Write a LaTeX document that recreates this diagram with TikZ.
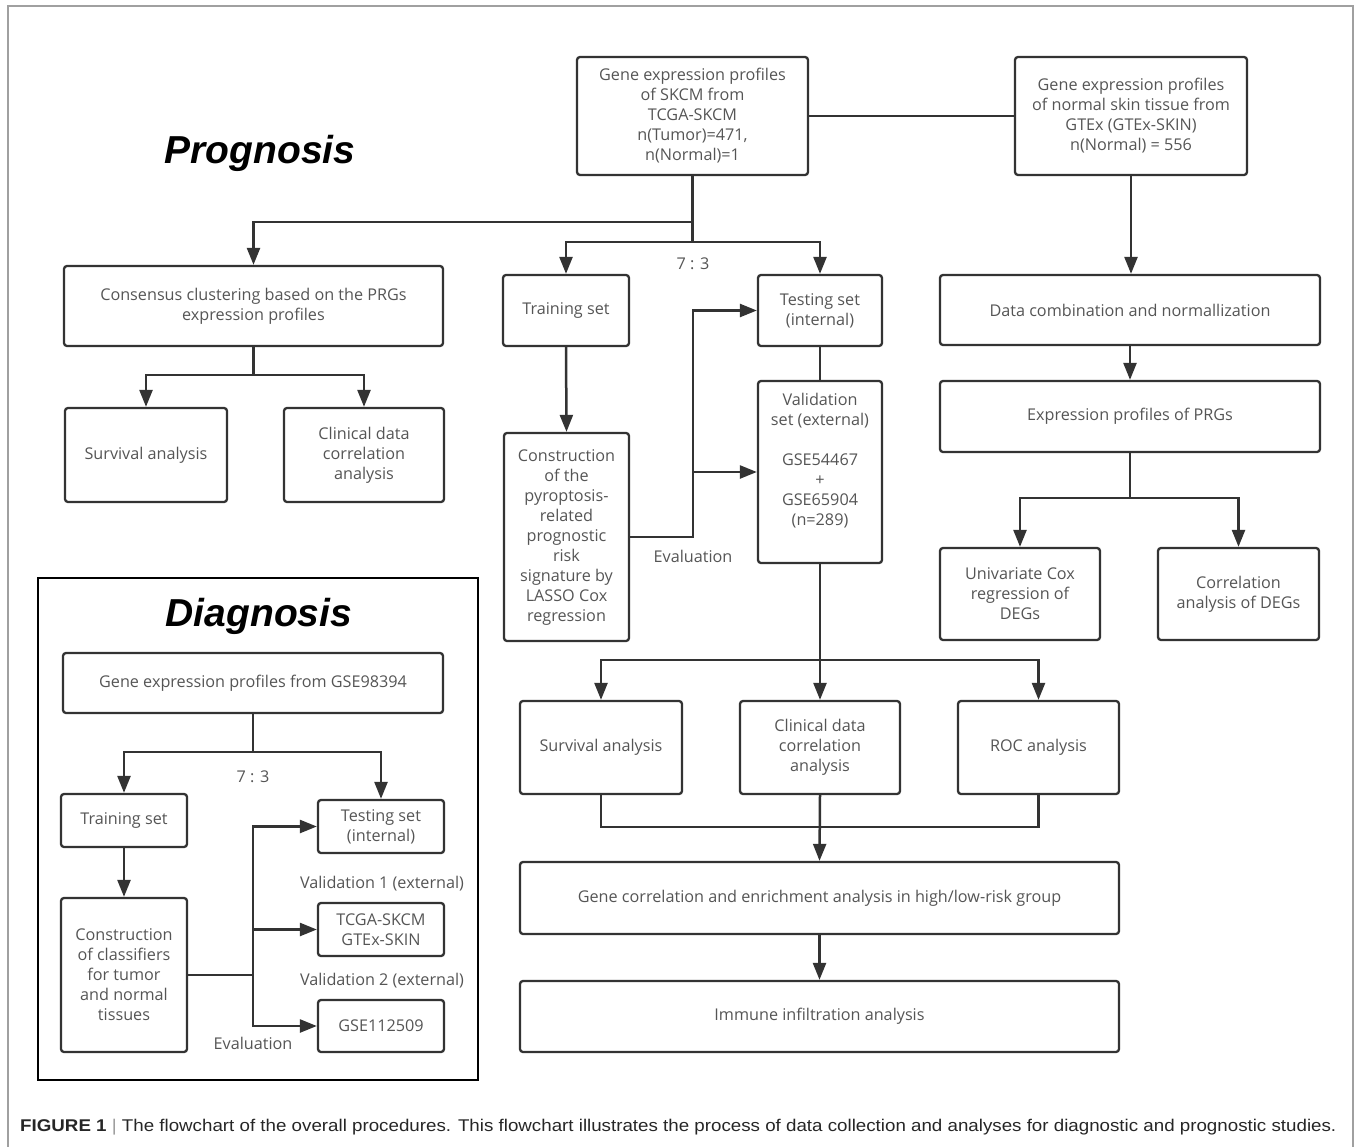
\documentclass[tikz,border=0pt]{standalone}
\usepackage{fontspec}
\usepackage{graphicx}
\setmainfont{Open Sans}
\newfontfamily\titlefont{Liberation Sans}
\usetikzlibrary{arrows.meta}
\definecolor{boxline}{HTML}{333333}
\definecolor{txt}{HTML}{555555}
\definecolor{framecol}{HTML}{A0A0A0}
\tikzset{
  box/.style={draw=boxline, line width=2.3pt, rounded corners=3pt, align=center, text=txt,
    font=\fontsize{16.2}{20}\selectfont, inner sep=2pt},
  conn/.style={draw=boxline, line width=2.5pt},
  arr/.style={conn, -{Triangle[length=17pt,width=13pt]}},
  lbl/.style={text=txt, font=\fontsize{16.2}{20}\selectfont, inner sep=0pt},
  ttl/.style={font=\titlefont\fontsize{39}{40}\selectfont\bfseries\itshape, inner sep=0pt}
}
\begin{document}
\begin{tikzpicture}[x=1pt,y=-1pt]
\useasboundingbox (0,0) rectangle (1356,1147);
% outer frame
\draw[framecol, line width=1.5pt] (8,1147) -- (8,6) -- (1353,6) -- (1353,1147);

% titles
\node[ttl, anchor=base] (prog) at (260,164) {Prognosis};

% Prognosis boxes
\node[box, minimum width=231pt, minimum height=118pt] (top) at (692.5,116)
  {Gene expression profiles\\of SKCM from\\TCGA-SKCM\\n(Tumor)=471,\\n(Normal)=1};
\node[box, minimum width=232pt, minimum height=118pt] (gtex) at (1131,116)
  {Gene expression profiles\\of normal skin tissue from\\GTEx (GTEx-SKIN)\\n(Normal) = 556};
\node[box, minimum width=379pt, minimum height=80pt] (cons) at (253.5,306)
  {Consensus clustering based on the PRGs\\expression profiles};
\node[box, minimum width=162pt, minimum height=94pt] (surv1) at (146,455) {Survival analysis};
\node[box, minimum width=160pt, minimum height=94pt] (clin1) at (364,455) {Clinical data\\correlation\\analysis};
\node[box, minimum width=126pt, minimum height=71pt] (train) at (566,310.5) {Training set};
\node[box, minimum width=124pt, minimum height=71pt] (test) at (820,310.5) {Testing set\\(internal)};
\node[box, minimum width=124pt, minimum height=182pt] (valid) at (820,472)
  {Validation\\set (external)\\[20pt]GSE54467\\+\\GSE65904\\(n=289)\\[6pt]};
\node[box, minimum width=125pt, minimum height=208pt] (constr) at (566.5,537)
  {Construction\\of the\\pyroptosis-\\related\\prognostic\\risk\\signature by\\LASSO Cox\\regression};
\node[box, minimum width=380pt, minimum height=70pt] (comb) at (1130,310) {Data combination and normallization};
\node[box, minimum width=380pt, minimum height=71pt] (expr) at (1130,416.5) {Expression profiles of PRGs};
\node[box, minimum width=160pt, minimum height=92pt] (univ) at (1020,594) {Univariate Cox\\regression of\\DEGs};
\node[box, minimum width=161pt, minimum height=92pt] (corr) at (1238.5,594) {Correlation\\analysis of DEGs};
\node[box, minimum width=162pt, minimum height=93pt] (surv2) at (601,747.5) {Survival analysis};
\node[box, minimum width=160pt, minimum height=93pt] (clin2) at (820,747.5) {Clinical data\\correlation\\analysis};
\node[box, minimum width=161pt, minimum height=93pt] (roc) at (1038.5,747.5) {ROC analysis};
\node[box, minimum width=599pt, minimum height=72pt] (gcorr) at (819.5,898) {Gene correlation and enrichment analysis in high/low-risk group};
\node[box, minimum width=599pt, minimum height=71pt] (immune) at (819.5,1016.5) {Immune infiltration analysis};

% labels
\node[lbl] (r1) at (693,264) {7 : 3};
\node[lbl] (ev1) at (693,556) {Evaluation};

% prognosis connectors
\draw[conn] (top.east) -- (gtex.west);
\coordinate (j1) at (692.5,222);
\coordinate (j2) at (692.5,242);
\draw[conn] (top.south) -- (j2);
\draw[arr] (j1) -| (cons.north);
\draw[arr] (j2) -| (train.north);
\draw[arr] (j2) -| (test.north);
\coordinate (j3) at (253.5,375);
\draw[conn] (cons.south) -- (j3);
\draw[arr] (j3) -| (surv1.north);
\draw[arr] (j3) -| (clin1.north);
\draw[arr] (train.south) -- (constr.north);
\draw[conn] (test.south) -- (valid.north);
\coordinate (e1) at (693,537);
\coordinate (e2) at (693,472);
\draw[arr] (constr.east) -- (e1) |- (test.west);
\draw[arr] (e2) -- (valid.west);
\coordinate (j4) at (820,660);
\draw[conn] (valid.south) -- (j4);
\draw[arr] (j4) -| (surv2.north);
\draw[arr] (j4) -- (clin2.north);
\draw[arr] (j4) -| (roc.north);
\coordinate (m1) at (601,827);
\coordinate (m2) at (1038.5,827);
\draw[conn] (surv2.south) -- (m1) -- (m2) -- (roc.south);
\draw[arr] (clin2.south) -- (gcorr.north);
\draw[arr] (gcorr.south) -- (immune.north);
\draw[arr] (gtex.south) -- (gtex.south |- comb.north);
\draw[arr] (comb.south) -- (expr.north);
\coordinate (j5) at (1130,498);
\draw[conn] (expr.south) -- (j5);
\draw[arr] (j5) -| (univ.north);
\draw[arr] (j5) -| (corr.north);

% Diagnosis panel
\draw[black, line width=2pt] (38,578) rectangle (478,1080);
\node[ttl, anchor=base] (diag) at (259,626) {Diagnosis};
\node[box, minimum width=380pt, minimum height=60pt] (dgene) at (253,683) {Gene expression profiles from GSE98394};
\node[box, minimum width=126pt, minimum height=53pt] (dtrain) at (124,820.5) {Training set};
\node[box, minimum width=126pt, minimum height=53pt] (dtest) at (381,826.5) {Testing set\\(internal)};
\node[box, minimum width=126pt, minimum height=53pt] (dtcga) at (381,929.5) {TCGA-SKCM\\GTEx-SKIN};
\node[box, minimum width=126pt, minimum height=52pt] (dgse) at (381,1026) {GSE112509};
\node[box, minimum width=126pt, minimum height=154pt] (dconstr) at (124,975)
  {Construction\\of classifiers\\for tumor\\and normal\\tissues};
\node[lbl] (r2) at (253,777) {7 : 3};
\node[lbl] (v1) at (382,884) {Validation 1 (external)};
\node[lbl] (v2) at (382,981) {Validation 2 (external)};
\node[lbl] (ev2) at (253,1043) {Evaluation};

\coordinate (j6) at (253,752);
\draw[conn] (dgene.south) -- (j6);
\draw[arr] (j6) -| (dtrain.north);
\draw[arr] (j6) -| (dtest.north);
\draw[arr] (dtrain.south) -- (dconstr.north);
\coordinate (d1) at (253,975);
\coordinate (d2) at (253,929.5);
\draw[conn] (dconstr.east) -- (d1);
\draw[arr] (d1) |- (dtest.west);
\draw[arr] (d1) |- (dgse.west);
\draw[arr] (d2) -- (dtcga.west);

% caption
\node[anchor=base west, inner sep=0pt] (cap) at (20,1131)
  {\resizebox{1316pt}{12.3pt}{\titlefont\color{black!85}\textbf{FIGURE 1} {\color{black!40}|} The flowchart of the overall procedures. This flowchart illustrates the process of data collection and analyses for diagnostic and prognostic studies.}};
\end{tikzpicture}
\end{document}
